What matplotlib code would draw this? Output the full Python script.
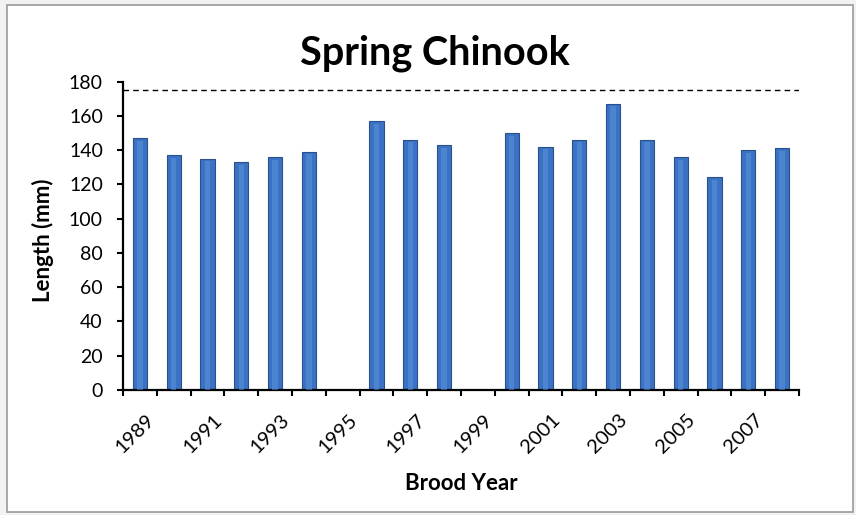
import numpy as np
import matplotlib
matplotlib.use("Agg")
import matplotlib.pyplot as plt
from matplotlib.patches import Rectangle

# brood years and mean length (mm); None = no data
years = list(range(1989, 2009))
lengths = [147, 137, 135, 133, 136, 139, None, 157, 146, 143,
           None, 150, 142, 146, 167, 146, 136, 124, 140, 141]
target = 175
yticks = list(range(0, 181, 20))

plt.rcParams["font.family"] = ["Lato", "DejaVu Sans"]

fig = plt.figure(figsize=(8.56, 5.15), dpi=100)
fig.patch.set_facecolor("#F2F2F2")
# white chart area with grey frame, kept behind the axes
fig.patches.append(Rectangle((7 / 856, 3 / 515), 846 / 856, 507 / 515,
                             transform=fig.transFigure, facecolor="white",
                             edgecolor="#9A9A9A", lw=1.2, zorder=-5))

ax = fig.add_axes([0.1437, 0.2427, 0.7897, 0.599])
ax.set_zorder(5)
ax.patch.set_alpha(0)

x = np.arange(len(years))
vals = np.array([np.nan if v is None else v for v in lengths], dtype=float)
ok = ~np.isnan(vals)

# bars with a light sheen in the middle
ax.bar(x[ok], vals[ok], width=0.42, color="#3B72C3", edgecolor="#27508C",
       linewidth=0.8, zorder=2)
ax.bar(x[ok], vals[ok] - 1.5, width=0.16, color="#5C93DE", alpha=0.55,
       linewidth=0, zorder=3)

ax.axhline(target, color="black", ls=(0, (4, 3)), lw=1.0, zorder=1)

ax.set_xlim(-0.5, len(years) - 0.5)
ax.set_ylim(0, 180)
ax.set_yticks(yticks)
ax.tick_params(axis="y", labelsize=14, length=4.5, width=1.5,
               direction="out", pad=10)

# ticks between categories, labels on every other year
ax.set_xticks(np.arange(-0.5, len(years) + 0.5, 1))
ax.set_xticklabels([])
ax.tick_params(axis="x", length=4.5, width=1.5, direction="out")
for i in range(0, len(years), 2):
    ax.annotate(str(years[i]), xy=(x[i], 0), xycoords=("data", "axes fraction"),
                xytext=(4, -15), textcoords="offset points", rotation=45,
                ha="right", va="top", rotation_mode="anchor", fontsize=14.5)

for side in ["top", "right"]:
    ax.spines[side].set_visible(False)
for side in ["left", "bottom"]:
    ax.spines[side].set_linewidth(1.6)

fig.text(0.050, 0.534, "Length (mm)", rotation=90, ha="center", va="center",
         fontsize=16, fontweight="bold")
fig.text(0.539, 0.062, "Brood Year", ha="center", va="center",
         fontsize=16, fontweight="bold")
fig.text(0.508, 0.897, "Spring Chinook", ha="center", va="center",
         fontsize=28.5, fontweight="bold")

fig.savefig("out.png", dpi=100, facecolor=fig.get_facecolor())
